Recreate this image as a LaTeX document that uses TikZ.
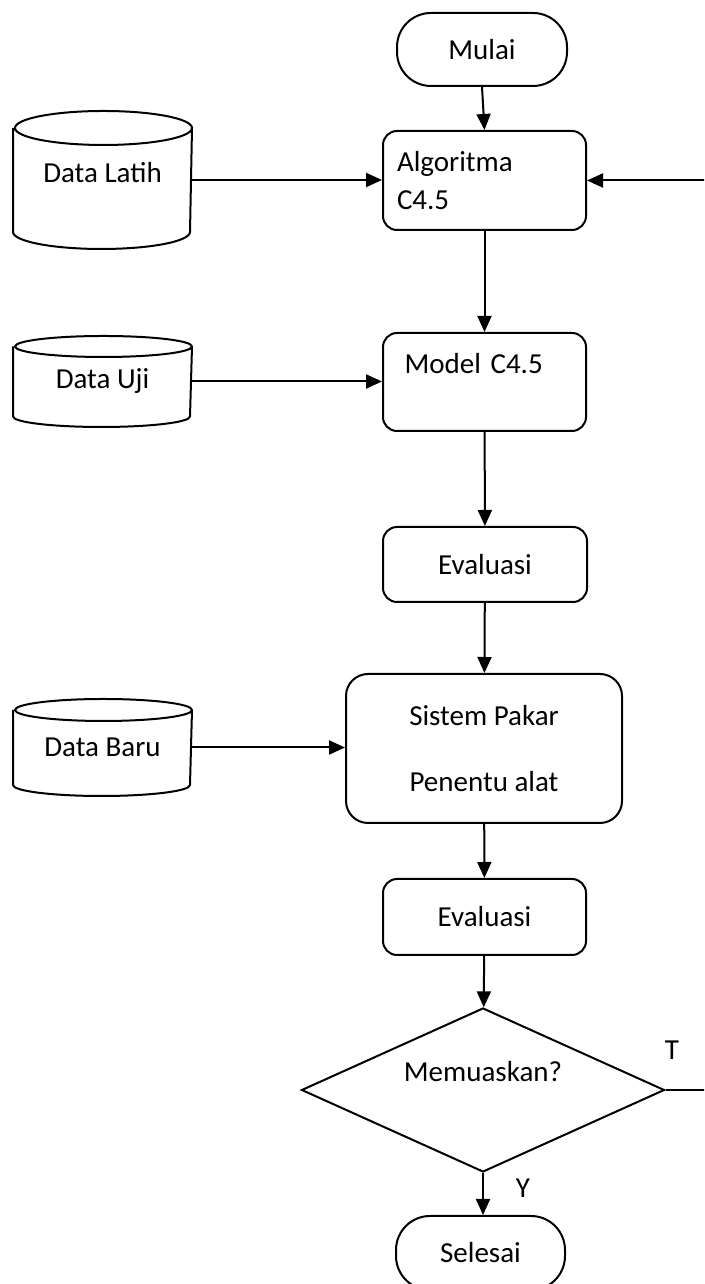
\documentclass[tikz,border=0pt]{standalone}
\usepackage{fontspec}
\setmainfont{Carlito}
\usetikzlibrary{shapes.geometric,arrows.meta}
\newcommand{\naik}[2]{\raisebox{#1}[\height][\depth]{#2}}
% outline of a data store: node name, radius of the caps
\newcommand{\tabung}[2]{%
  \draw[line join=round] ([yshift=-#2]#1.north west) -- ([yshift=#2]#1.south west)
    arc[start angle=180, end angle=360, x radius=88.5pt, y radius=#2]
    -- ([yshift=-#2]#1.north east)
    arc[start angle=0, end angle=180, x radius=88.5pt, y radius=#2]
    arc[start angle=180, end angle=360, x radius=88.5pt, y radius=#2];}

\begin{document}
\begin{tikzpicture}[x=1pt, y=1pt, line width=2pt,
    font=\fontsize{29}{38}\selectfont,
    proc/.style={draw, rectangle, rounded corners=14pt, inner sep=0pt},
    term/.style={draw, rectangle, rounded corners=34pt, minimum width=170pt, minimum height=73pt},
    data/.style={rectangle, minimum width=177pt, inner sep=0pt},
    arr/.style={-{Triangle[length=16pt,width=14pt]}}]
    \clip (0,0) rectangle (704,1284);

    \node[term] (mulai) at (482,1234.5) {Mulai};
    \node[proc, minimum width=203pt, minimum height=99pt, text width=175pt, align=left] (algo) at (484.5,1103.5) {Algoritma\\C4.5};
    \node[proc, minimum width=203pt, minimum height=98pt, text width=160pt, align=left] (model) at (484.5,902) {Model C4.5\\\mbox{}};
    \node[proc, minimum width=204pt, minimum height=75pt] (eval) at (485,719.5) {Evaluasi};
    \node[proc, rounded corners=22pt, minimum width=276pt, minimum height=149pt, align=center] (pakar) at (484,535.5) {Sistem Pakar\\[28pt]Penentu alat};
    \node[proc, minimum width=203pt, minimum height=76pt] (evaldua) at (484.5,367) {Evaluasi};
    \node[draw, diamond, aspect=2.2, minimum width=363pt, minimum height=164pt, inner sep=0pt, align=center] (puas) at (483,194) {Memuaskan?\\\mbox{}};
    \node[term, minimum width=169pt, minimum height=74pt] (selesai) at (480.5,31) {Selesai};

    \node[data, minimum height=136pt] (latih) at (102.5,1104) {\naik{7pt}{Data Latih}};
    \node[data, minimum height=89pt] (uji) at (102.5,902.5) {Data Uji};
    \node[data, minimum height=95pt] (baru) at (102.5,536.5) {Data Baru};
    \tabung{latih}{17pt}
    \tabung{uji}{10.5pt}
    \tabung{baru}{11pt}

    \node (tlabel) at (672,234) {T};
    \node (ylabel) at (523,96) {Y};
    \coordinate (balik) at (712,0);

    \draw[arr] (mulai.south) -- (algo.north);
    \draw[arr] (algo) -- (model);
    \draw[arr] (model) -- (eval);
    \draw[arr] (eval) -- (pakar);
    \draw[arr] (pakar) -- (evaldua);
    \draw[arr] (evaldua) -- (puas);
    \draw[arr] (puas.south) -- (puas.south |- selesai.north);
    \draw[arr] (latih.east) -- (latih.east -| algo.west);
    \draw[arr] (uji.east) -- (uji.east -| model.west);
    \draw[arr] (baru.east) -- (baru.east -| pakar.west);
    \draw[arr] (puas.east) -- (puas.east -| balik) |- (algo.east);
\end{tikzpicture}
\end{document}
